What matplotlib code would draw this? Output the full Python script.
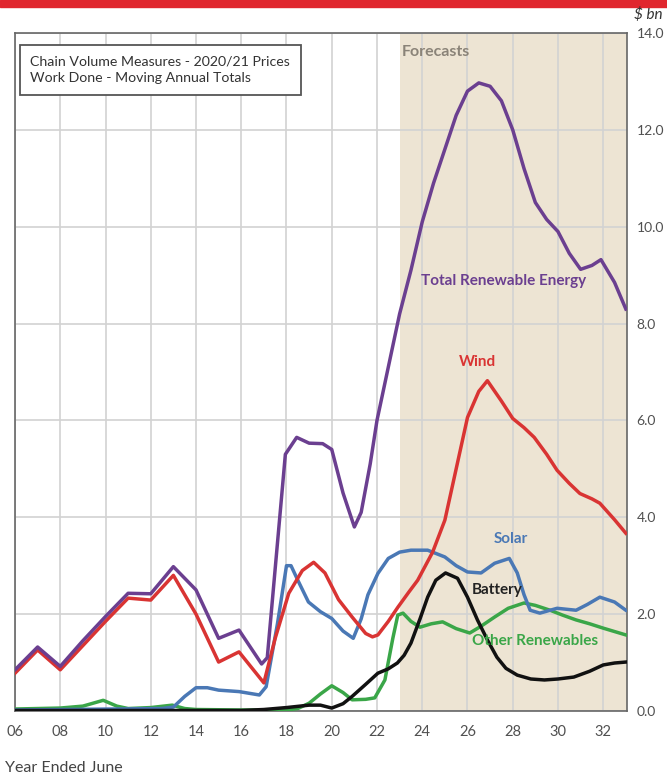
import matplotlib
matplotlib.use("Agg")
import matplotlib.pyplot as plt

plt.rcParams['font.family'] = ['Lato', 'DejaVu Sans']

# values ($ bn, chain volume, year ended June)
total_x = [2006.0, 2007.0, 2008.0, 2009.0, 2010.0, 2011.0, 2012.0, 2013.0, 2014.0, 2015.0,
           2015.9, 2016.9, 2017.15, 2017.95, 2018.45, 2019.0, 2019.6, 2020.0, 2020.5, 2021.0,
           2021.3, 2021.7, 2022.0, 2022.5, 2023.0, 2023.5, 2024.0, 2024.5, 2025.0, 2025.5,
           2026.0, 2026.5, 2027.0, 2027.5, 2028.0, 2028.5, 2029.0, 2029.5, 2030.0, 2030.5,
           2031.0, 2031.5, 2031.9, 2032.5, 2033.0]
total_y = [0.85, 1.32, 0.92, 1.45, 1.95, 2.43, 2.42, 2.98, 2.5, 1.5,
           1.67, 0.97, 1.1, 5.3, 5.65, 5.53, 5.52, 5.4, 4.5, 3.8,
           4.1, 5.1, 6.0, 7.1, 8.2, 9.1, 10.1, 10.9, 11.6, 12.3,
           12.8, 12.97, 12.9, 12.6, 12.0, 11.2, 10.5, 10.15, 9.9, 9.45,
           9.12, 9.2, 9.32, 8.85, 8.3]

wind_x = [2006.0, 2007.0, 2008.0, 2009.0, 2010.0, 2011.0, 2012.0, 2013.0, 2014.0, 2015.0,
          2015.9, 2017.0, 2017.5, 2018.1, 2018.7, 2019.2, 2019.7, 2020.3, 2020.9, 2021.5,
          2021.8, 2022.04, 2022.5, 2022.92, 2023.4, 2023.8, 2024.46, 2025.0, 2025.5, 2026.0,
          2026.5, 2026.88, 2027.5, 2028.0, 2028.5, 2028.95, 2029.5, 2029.96, 2030.5, 2030.97,
          2031.5, 2031.85, 2032.5, 2033.0]
wind_y = [0.78, 1.26, 0.85, 1.35, 1.85, 2.33, 2.29, 2.8, 2.0, 1.01,
          1.22, 0.58, 1.5, 2.43, 2.9, 3.07, 2.85, 2.3, 1.94, 1.6,
          1.53, 1.57, 1.85, 2.14, 2.45, 2.7, 3.28, 3.94, 5.0, 6.06,
          6.6, 6.82, 6.4, 6.04, 5.85, 5.65, 5.3, 4.97, 4.7, 4.49,
          4.38, 4.29, 3.95, 3.67]

solar_x = [2006.0, 2012.5, 2013.0, 2013.5, 2014.0, 2014.5, 2015.0, 2015.9, 2016.8, 2017.1,
           2017.6, 2018.0, 2018.2, 2018.5, 2018.97, 2019.5, 2020.0, 2020.5, 2020.95, 2021.3,
           2021.6, 2022.04, 2022.5, 2023.0, 2023.5, 2024.24, 2025.0, 2025.5, 2026.0, 2026.6,
           2027.2, 2027.85, 2028.2, 2028.5, 2028.77, 2029.2, 2029.96, 2030.8, 2031.3, 2031.85,
           2032.5, 2033.0]
solar_y = [0.02, 0.05, 0.08, 0.3, 0.48, 0.48, 0.43, 0.4, 0.33, 0.5,
           1.8, 3.0, 3.0, 2.7, 2.25, 2.05, 1.91, 1.65, 1.5, 1.9,
           2.4, 2.84, 3.15, 3.28, 3.32, 3.32, 3.18, 3.0, 2.87, 2.85,
           3.05, 3.15, 2.85, 2.4, 2.08, 2.02, 2.12, 2.08, 2.2, 2.35,
           2.25, 2.08]

other_x = [2006.0, 2008.0, 2009.0, 2009.9, 2010.5, 2011.0, 2012.0, 2012.95, 2013.5, 2014.0,
           2016.0, 2018.0, 2018.5, 2019.0, 2019.5, 2020.0, 2020.5, 2020.9, 2021.5, 2021.9,
           2022.35, 2022.7, 2022.92, 2023.15, 2023.5, 2023.9, 2024.4, 2024.9, 2025.5, 2026.1,
           2026.6, 2027.2, 2027.8, 2028.5, 2029.0, 2029.65, 2030.2, 2030.8, 2031.4, 2032.0,
           2032.5, 2033.0]
other_y = [0.04, 0.06, 0.1, 0.22, 0.1, 0.05, 0.07, 0.12, 0.05, 0.03,
           0.02, 0.02, 0.05, 0.16, 0.35, 0.52, 0.38, 0.23, 0.24, 0.27,
           0.64, 1.5, 1.98, 2.02, 1.85, 1.73, 1.8, 1.84, 1.7, 1.61,
           1.75, 1.94, 2.12, 2.23, 2.18, 2.08, 1.98, 1.88, 1.8, 1.71,
           1.64, 1.57]

battery_x = [2006.0, 2016.0, 2017.0, 2018.0, 2019.0, 2019.5, 2020.0, 2020.5, 2020.9, 2021.5,
             2022.04, 2022.5, 2022.9, 2023.2, 2023.5, 2023.9, 2024.24, 2024.6, 2025.03, 2025.56,
             2026.0, 2026.44, 2026.9, 2027.3, 2027.7, 2028.2, 2028.8, 2029.4, 2030.0, 2030.7,
             2031.4, 2032.0, 2032.5, 2033.0]
battery_y = [0.01, 0.01, 0.03, 0.07, 0.12, 0.12, 0.06, 0.15, 0.3, 0.55,
             0.78, 0.87, 0.99, 1.15, 1.4, 1.9, 2.35, 2.7, 2.85, 2.74,
             2.35, 1.88, 1.45, 1.11, 0.88, 0.74, 0.66, 0.64, 0.66, 0.7,
             0.82, 0.95, 0.99, 1.01]

xticks = list(range(2006, 2033, 2))
xtick_labels = [f"{y % 100:02d}" for y in xticks]
yticks = [0, 2, 4, 6, 8, 10, 12, 14]
forecast_start = 2023.0

fig = plt.figure(figsize=(6.67, 7.77), dpi=100)
ax = fig.add_axes([0.0225, 0.085, 0.9175, 0.8725])

# red band across the top
fig.patches.append(plt.Rectangle((0, 0.991), 1, 0.009, transform=fig.transFigure,
                                 color="#e0262e", zorder=0))

ax.axvspan(forecast_start, 2033.05, color="#ede4d3", zorder=0, lw=0)
ax.set_xlim(2006, 2033.05)
ax.set_ylim(0, 14)

ax.set_xticks(xticks)
ax.set_xticklabels(xtick_labels)
ax.set_yticks(yticks)
ax.set_yticklabels([f"{v:.1f}" for v in yticks])
ax.yaxis.tick_right()
ax.tick_params(axis="both", length=0, labelsize=10.5, colors="#505050")
ax.tick_params(axis="x", pad=10)
ax.tick_params(axis="y", pad=7, labelsize=10)
ax.grid(True, color="#d2d2d2", lw=1.2, zorder=1)
for s in ax.spines.values():
    s.set_color("#666666")
    s.set_linewidth(1.2)

lw = 2.5
ax.plot(other_x, other_y, color="#3aa648", lw=lw, zorder=3)
ax.plot(solar_x, solar_y, color="#4a78b5", lw=lw, zorder=3)
ax.plot(battery_x, battery_y, color="#111111", lw=lw, zorder=4)
ax.plot(wind_x, wind_y, color="#d93433", lw=lw, zorder=5)
ax.plot(total_x, total_y, color="#6b3f90", lw=lw, zorder=6)

ax.text(2024.6, 13.6, "Forecasts", color="#8a8378", fontsize=11.5, fontweight="bold",
        ha="center", va="center")
ax.text(2027.6, 8.87, "Total Renewable Energy", color="#6b3f90", fontsize=11,
        fontweight="bold", ha="center", va="center", zorder=7)
ax.text(2026.45, 7.2, "Wind", color="#d93433", fontsize=11, fontweight="bold",
        ha="center", va="center", zorder=7)
ax.text(2027.9, 3.55, "Solar", color="#4a78b5", fontsize=11, fontweight="bold",
        ha="center", va="center", zorder=7)
ax.text(2027.3, 2.5, "Battery", color="#222222", fontsize=11, fontweight="bold",
        ha="center", va="center", zorder=7)
ax.text(2029.0, 1.45, "Other Renewables", color="#3aa648", fontsize=11, fontweight="bold",
        ha="center", va="center", zorder=7)

ax.text(0.025, 0.967, "Chain Volume Measures - 2020/21 Prices\nWork Done - Moving Annual Totals",
        transform=ax.transAxes, ha="left", va="top", fontsize=10.2, color="#333333",
        linespacing=1.45, zorder=8,
        bbox=dict(boxstyle="square,pad=0.75", fc="white", ec="#555555", lw=1.3))

fig.text(0.972, 0.981, "$ bn", ha="center", va="center", fontsize=11, style="italic",
         color="#333333")
fig.text(0.008, 0.003, "Year Ended June", ha="left", va="bottom", fontsize=11.5,
         color="#444444")

plt.savefig("out.png", dpi=100)
plt.close()
